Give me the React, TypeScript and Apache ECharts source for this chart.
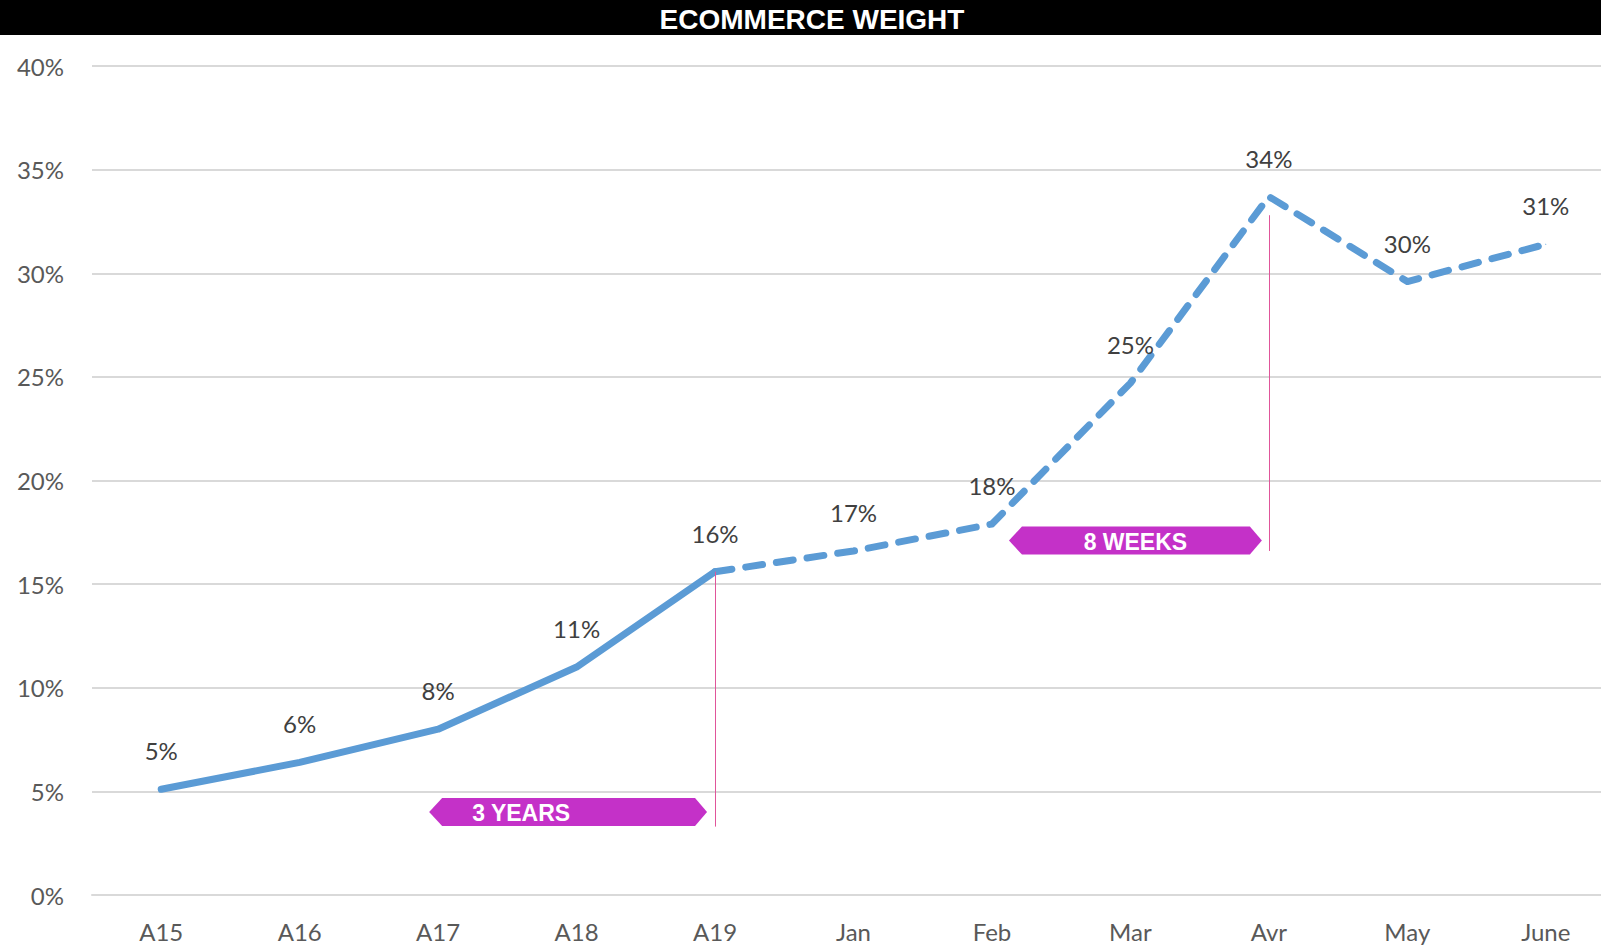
import React, { useEffect, useRef } from "react";
import * as echarts from "echarts";

const categories = ["A15", "A16", "A17", "A18", "A19", "Jan", "Feb", "Mar", "Avr", "May", "June"];
const historyValues = [5.1, 6.4, 8.0, 11.0, 15.6];
const recentValues = [15.6, 16.6, 17.9, 24.7, 33.7, 29.6, 31.4];
const yTicks = { min: 0, max: 40, interval: 5 };
const titleText = "ECOMMERCE WEIGHT";
const badges = [
  { text: "3 YEARS", from: "A17", to: "A19", value: 4.0, offsetFrom: -9, offsetTo: -8, align: "left" },
  { text: "8 WEEKS", from: "Feb", to: "Avr", value: 17.1, offsetFrom: 17, offsetTo: -7, align: "center" },
];
const markers = [
  { cat: "A19", top: 15.6, bottom: 3.3 },
  { cat: "Avr", top: 32.8, bottom: 16.6 },
];

const BLUE = "#5B9BD5";
const PINK = "#C431C8";
const FONT = "Lato, 'Open Sans', sans-serif";

export default function App() {
  const ref = useRef<HTMLDivElement>(null);
  useEffect(() => {
    document.body.style.margin = "0";
    const chart = echarts.init(ref.current!, null, { renderer: "svg" });
    const solidData = categories.map((_, i) => (i < historyValues.length ? historyValues[i] : "-"));
    const startDash = historyValues.length - 1;
    const dashData = categories.map((_, i) =>
      i >= startDash && i - startDash < recentValues.length ? recentValues[i - startDash] : "-"
    );
    const labelCfg = {
      show: true,
      position: "top",
      distance: 26,
      color: "#404040",
      fontSize: 24,
      fontFamily: FONT,
    };
    chart.setOption({
      animation: false,
      backgroundColor: "#ffffff",
      grid: { left: 92, right: -14, top: 66, bottom: 52, containLabel: false, outerBoundsMode: "none" },
      xAxis: {
        type: "category",
        data: categories,
        boundaryGap: true,
        axisLine: { show: true, lineStyle: { color: "#D9D9D9", width: 2 } },
        axisTick: { show: false },
        axisLabel: { color: "#595959", fontSize: 24, fontFamily: FONT, margin: 24 },
      },
      yAxis: {
        type: "value",
        min: yTicks.min,
        max: yTicks.max,
        interval: yTicks.interval,
        axisLine: { show: false },
        axisTick: { show: false },
        axisLabel: { color: "#595959", fontSize: 24, fontFamily: FONT, margin: 28, formatter: "{value}%" },
        splitLine: { lineStyle: { color: "#D9D9D9", width: 2 } },
      },
      series: [
        {
          type: "line",
          data: solidData,
          symbol: "circle",
          symbolSize: 1,
          itemStyle: { color: BLUE },
          lineStyle: { color: BLUE, width: 7, cap: "round", join: "round" },
          label: { ...labelCfg, formatter: (p: any) => Math.round(p.value) + "%" },
          markLine: {
            silent: true,
            symbol: "none",
            label: { show: false },
            lineStyle: { color: "#E0559A", width: 1, type: "solid" },
            data: markers.map((m) => [
              { coord: [m.cat, m.top] },
              { coord: [m.cat, m.bottom] },
            ]),
          },
          z: 3,
        },
        {
          type: "line",
          data: dashData,
          symbol: "circle",
          symbolSize: 1,
          itemStyle: { color: BLUE },
          lineStyle: { color: BLUE, width: 7, type: [17, 14], cap: "round", join: "round" },
          label: {
            ...labelCfg,
            formatter: (p: any) => (p.dataIndex === startDash ? "" : Math.round(p.value) + "%"),
          },
          z: 3,
        },
      ],
    });

    const W = chart.getWidth();
    const graphics: any[] = [
      { type: "rect", shape: { x: 0, y: 0, width: W, height: 35 }, style: { fill: "#000" }, z: 10 },
      {
        type: "text",
        x: 812,
        y: 19,
        style: {
          text: titleText,
          fill: "#fff",
          font: "bold 28px 'Liberation Sans', Arial, sans-serif",
          align: "center",
          verticalAlign: "middle",
        },
        z: 11,
      },
    ];
    badges.forEach((b) => {
      const p1 = chart.convertToPixel({ xAxisIndex: 0, yAxisIndex: 0 }, [b.from, b.value]) as number[];
      const p2 = chart.convertToPixel({ xAxisIndex: 0, yAxisIndex: 0 }, [b.to, b.value]) as number[];
      const x0 = p1[0] + b.offsetFrom;
      const x1 = p2[0] + b.offsetTo;
      const cy = p1[1];
      const h = 14;
      graphics.push({
        type: "polygon",
        shape: {
          points: [
            [x0, cy],
            [x0 + 13, cy - h],
            [x1 - 12, cy - h],
            [x1, cy],
            [x1 - 12, cy + h],
            [x0 + 13, cy + h],
          ],
        },
        style: { fill: PINK },
        z: 10,
      });
      graphics.push({
        type: "text",
        x: b.align === "center" ? (x0 + x1) / 2 : x0 + 43,
        y: cy + 1,
        style: {
          text: b.text,
          fill: "#fff",
          font: "bold 23px 'Liberation Sans', Arial, sans-serif",
          align: b.align,
          verticalAlign: "middle",
        },
        z: 11,
      });
    });
    chart.setOption({ graphic: graphics });
    return () => chart.dispose();
  }, []);
  return <div ref={ref} style={{ width: 1601, height: 947 }} />;
}
